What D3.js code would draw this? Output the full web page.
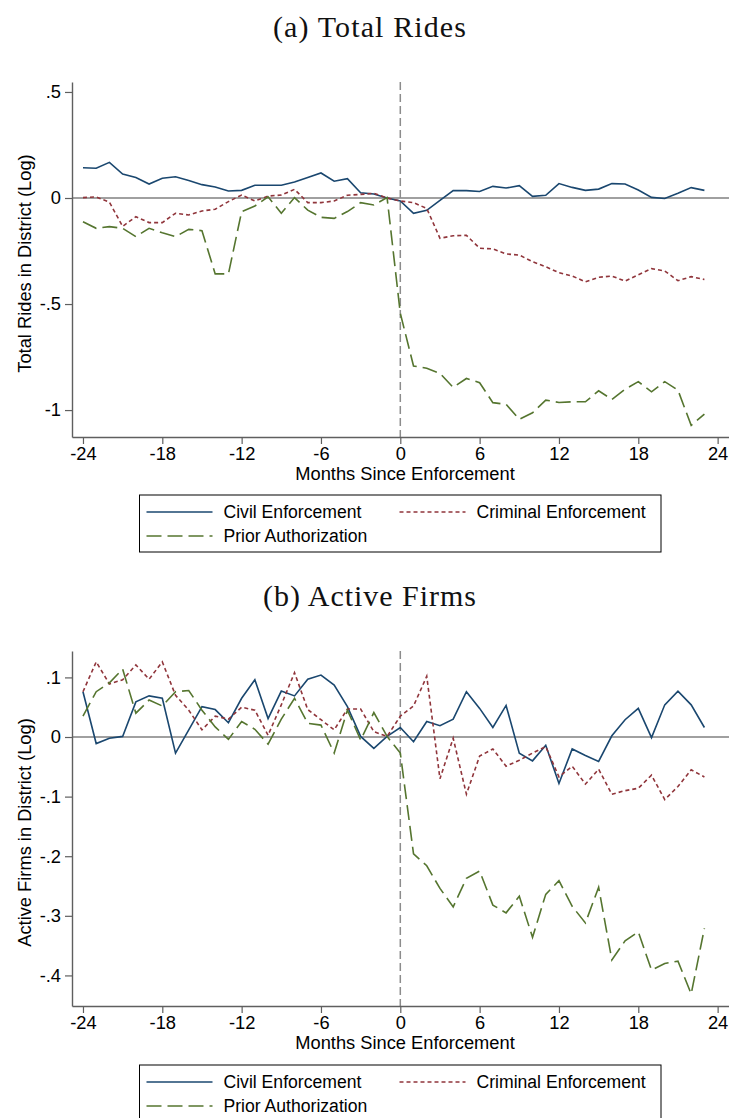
<!DOCTYPE html>
<html>
<head>
<meta charset="utf-8">
<script src="https://cdn.jsdelivr.net/npm/d3@7"></script>
<style>
  html, body { margin: 0; padding: 0; background: #fff; }
  svg { display: block; }
</style>
</head>
<body>
<svg id="chart" width="729" height="1118"></svg>
<script>
// Months relative to enforcement
const months = [-24,-23,-22,-21,-20,-19,-18,-17,-16,-15,-14,-13,-12,-11,-10,-9,-8,-7,-6,-5,-4,-3,-2,-1,
                0,1,2,3,4,5,6,7,8,9,10,11,12,13,14,15,16,17,18,19,20,21,22,23];

// (a) Total rides in district, log
const ridesCivil = [0.143,0.140,0.168,0.113,0.097,0.066,0.093,0.100,0.083,0.063,0.052,0.033,0.036,0.060,0.060,0.060,0.075,0.097,0.118,0.079,0.091,0.025,0.019,0.000,
                    -0.014,-0.072,-0.058,-0.011,0.035,0.035,0.031,0.055,0.047,0.058,0.008,0.013,0.068,0.050,0.036,0.042,0.068,0.066,0.038,0.003,-0.002,0.022,0.049,0.036];
const ridesCriminal = [0.002,0.005,-0.020,-0.134,-0.088,-0.116,-0.116,-0.072,-0.080,-0.061,-0.053,-0.017,0.014,-0.014,0.009,0.014,0.041,-0.022,-0.022,-0.014,0.013,0.017,0.022,0.000,
                       -0.014,-0.022,-0.049,-0.190,-0.178,-0.176,-0.237,-0.240,-0.264,-0.269,-0.300,-0.324,-0.352,-0.368,-0.395,-0.374,-0.368,-0.392,-0.362,-0.333,-0.344,-0.390,-0.371,-0.384];
const ridesPrior = [-0.112,-0.143,-0.135,-0.143,-0.182,-0.143,-0.164,-0.182,-0.148,-0.154,-0.358,-0.358,-0.064,-0.038,0.006,-0.072,0.002,-0.057,-0.091,-0.096,-0.064,-0.022,-0.033,0.002,
                    -0.544,-0.792,-0.803,-0.827,-0.893,-0.851,-0.871,-0.965,-0.973,-1.044,-1.013,-0.953,-0.964,-0.961,-0.961,-0.909,-0.950,-0.902,-0.866,-0.914,-0.866,-0.906,-1.072,-1.019];

// (b) Active firms in district, log
const firmsCivil = [0.076,-0.011,-0.002,0.001,0.059,0.069,0.065,-0.027,0.012,0.051,0.046,0.024,0.065,0.096,0.031,0.077,0.069,0.097,0.104,0.087,0.051,0.001,-0.019,0.001,
                    0.016,-0.008,0.026,0.019,0.030,0.076,0.048,0.016,0.053,-0.027,-0.040,-0.014,-0.078,-0.020,-0.031,-0.041,0.002,0.029,0.048,-0.001,0.054,0.077,0.054,0.016];
const firmsCriminal = [0.076,0.126,0.089,0.096,0.121,0.097,0.126,0.070,0.045,0.012,0.035,0.030,0.050,0.045,0.003,0.054,0.108,0.046,0.029,0.012,0.047,0.047,0.009,0.001,
                       0.035,0.052,0.102,-0.070,-0.002,-0.096,-0.032,-0.020,-0.049,-0.039,-0.027,-0.016,-0.067,-0.049,-0.079,-0.054,-0.096,-0.090,-0.086,-0.064,-0.105,-0.083,-0.055,-0.067];
const firmsPrior = [0.035,0.076,0.091,0.114,0.040,0.062,0.052,0.076,0.078,0.045,0.017,-0.004,0.026,0.013,-0.012,0.030,0.065,0.023,0.020,-0.027,0.045,-0.005,0.041,0.001,
                    -0.027,-0.196,-0.216,-0.254,-0.285,-0.237,-0.225,-0.282,-0.295,-0.267,-0.336,-0.264,-0.241,-0.284,-0.312,-0.252,-0.374,-0.342,-0.327,-0.391,-0.380,-0.376,-0.431,-0.321];

// Axis ticks
const xTicks = [-24,-18,-12,-6,0,6,12,18,24];
const ridesTicks = [0.5,0,-0.5,-1];
const ridesTickLabels = [".5","0","-.5","-1"];
const firmsTicks = [0.1,0,-0.1,-0.2,-0.3,-0.4];
const firmsTickLabels = [".1","0","-.1","-.2","-.3","-.4"];

// Series names and styles
const seriesNames = ["Civil Enforcement","Criminal Enforcement","Prior Authorization"];
const seriesColors = ["#1a476f","#90353b","#55752f"];
const seriesDash = [null,"4,3","15,6"];

const svg = d3.select("#chart");
svg.append("rect").attr("width",729).attr("height",1118).attr("fill","#fff");

const SANS = "'Liberation Sans', Arial, sans-serif";
const SERIF = "'Liberation Serif', 'Times New Roman', serif";

const x = d3.scaleLinear().domain([-24.83, 24.86]).range([72, 729]);

function drawPanel(cfg) {
  const g = svg.append("g");
  const y = d3.scaleLinear().domain([cfg.yMin, cfg.yMax]).range([cfg.bottom, cfg.top]);

  // panel title
  g.append("text")
    .attr("x", 369.5).attr("y", cfg.titleY)
    .attr("text-anchor","middle")
    .attr("font-family", SERIF).attr("font-size", 30)
    .attr("textLength", cfg.titleWidth).attr("lengthAdjust","spacing")
    .attr("fill","#111")
    .text(cfg.title);

  // reference lines
  g.append("line")
    .attr("x1", x.range()[0]).attr("x2", x.range()[1])
    .attr("y1", y(0)).attr("y2", y(0))
    .attr("stroke","#808080").attr("stroke-width",1.4);
  g.append("line")
    .attr("x1", x(0)).attr("x2", x(0))
    .attr("y1", cfg.top).attr("y2", cfg.bottom)
    .attr("stroke","#8c8c8c").attr("stroke-width",1.5)
    .attr("stroke-dasharray","8,4");

  // series
  const line = d3.line().x((d,i) => x(months[i])).y(d => y(d));
  cfg.series.forEach((vals, k) => {
    g.append("path")
      .datum(vals)
      .attr("d", line)
      .attr("fill","none")
      .attr("stroke", seriesColors[k])
      .attr("stroke-width",1.6)
      .attr("stroke-dasharray", seriesDash[k]);
  });

  // axes
  const yAxis = d3.axisLeft(y)
    .tickValues(cfg.ticks)
    .tickFormat((d,i) => cfg.tickLabels[i])
    .tickSize(7).tickSizeOuter(0).tickPadding(4);
  const ya = g.append("g").attr("transform","translate(72,0)").call(yAxis);

  const xAxis = d3.axisBottom(x)
    .tickValues(xTicks)
    .tickFormat(d => String(d))
    .tickSize(7).tickSizeOuter(0).tickPadding(3);
  const xa = g.append("g").attr("transform",`translate(0,${cfg.bottom})`).call(xAxis);

  [ya, xa].forEach(a => {
    a.select(".domain").attr("stroke","#5f5f5f").attr("stroke-width",1.4);
    a.selectAll(".tick line").attr("stroke","#5f5f5f").attr("stroke-width",1.2);
    a.selectAll(".tick text").attr("font-family",SANS).attr("font-size",18.3).attr("fill","#000");
  });

  // axis titles
  g.append("text")
    .attr("x", 405).attr("y", cfg.bottom + 43)
    .attr("text-anchor","middle")
    .attr("font-family",SANS).attr("font-size",18.3).attr("fill","#000")
    .text("Months Since Enforcement");
  g.append("text")
    .attr("transform",`translate(31,${(cfg.top + cfg.bottom)/2 + 4}) rotate(-90)`)
    .attr("text-anchor","middle")
    .attr("font-family",SANS).attr("font-size",18.3).attr("fill","#000")
    .text(cfg.yLabel);

  // legend
  const lg = g.append("g").attr("transform",`translate(139.5,${cfg.legendTop})`);
  lg.append("rect")
    .attr("x",0).attr("y",0).attr("width",521.5).attr("height",57)
    .attr("fill","#fff").attr("stroke","#000").attr("stroke-width",1);
  const slots = [[7,0],[260,0],[7,1]];
  seriesNames.forEach((name, k) => {
    const [sx, row] = slots[k];
    const ly = 17 + row*24;
    lg.append("line")
      .attr("x1", sx).attr("x2", sx + 66)
      .attr("y1", ly).attr("y2", ly)
      .attr("stroke", seriesColors[k]).attr("stroke-width",1.6)
      .attr("stroke-dasharray", seriesDash[k]);
    lg.append("text")
      .attr("x", sx + 77).attr("y", ly + 6)
      .attr("font-family",SANS).attr("font-size",17.6).attr("fill","#000")
      .text(name);
  });
}

drawPanel({
  title: "(a) Total Rides", titleY: 37, titleWidth: 193,
  top: 82, bottom: 437, yMin: -1.127, yMax: 0.547,
  ticks: ridesTicks, tickLabels: ridesTickLabels,
  yLabel: "Total Rides in District (Log)",
  series: [ridesCivil, ridesCriminal, ridesPrior],
  legendTop: 495
});

drawPanel({
  title: "(b) Active Firms", titleY: 606, titleWidth: 213,
  top: 651, bottom: 1006, yMin: -0.4513, yMax: 0.1443,
  ticks: firmsTicks, tickLabels: firmsTickLabels,
  yLabel: "Active Firms in District (Log)",
  series: [firmsCivil, firmsCriminal, firmsPrior],
  legendTop: 1065
});
</script>
</body>
</html>
